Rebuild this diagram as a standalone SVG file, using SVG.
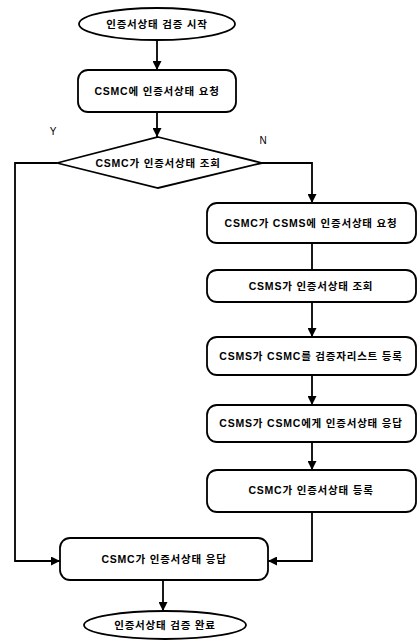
<svg xmlns="http://www.w3.org/2000/svg" width="418" height="640" viewBox="0 0 418 640">
<style>
.s{fill:#fff;stroke:#000;stroke-width:1.8}
.t{font-family:"Liberation Sans","Noto Sans CJK KR",sans-serif;font-size:10.5px;font-weight:bold;letter-spacing:0.8px;fill:#000;text-anchor:middle;dominant-baseline:central}
.c{fill:none;stroke:#000;stroke-width:1.8}
.l{font-family:"Liberation Sans",sans-serif;font-size:10px;fill:#000;text-anchor:middle}
</style>
<defs>
<marker id="a" viewBox="0 0 10 10" refX="10" refY="5" markerWidth="5.5" markerHeight="5" orient="auto" markerUnits="strokeWidth">
<path d="M0,0 L10,5 L0,10 z" fill="#000"/>
</marker>
</defs>
<g id="connectors">
<line class="c" x1="157" y1="40" x2="157" y2="70" marker-end="url(#a)"/>
<line class="c" x1="157" y1="112" x2="157" y2="137" marker-end="url(#a)"/>
<polyline class="c" points="262,163 312,163 312,203" marker-end="url(#a)"/>
<polyline class="c" points="57,163 15,163 15,561 60,561" marker-end="url(#a)"/>
<line class="c" x1="312" y1="243" x2="312" y2="270"/>
<line class="c" x1="312" y1="302" x2="312" y2="337" marker-end="url(#a)"/>
<line class="c" x1="312" y1="375" x2="312" y2="405" marker-end="url(#a)"/>
<line class="c" x1="312" y1="442" x2="312" y2="470" marker-end="url(#a)"/>
<polyline class="c" points="312,512 312,561 268,561" marker-end="url(#a)"/>
<line class="c" x1="163" y1="580" x2="163" y2="611" marker-end="url(#a)"/>
<text class="l" x="53" y="135">Y</text>
<text class="l" x="263" y="144">N</text>
</g>
<g id="start">
<ellipse class="s" cx="157" cy="24" rx="78" ry="16"/>
<text class="t" x="157" y="24">인증서상태 검증 시작</text>
</g>
<g id="req">
<rect class="s" x="78" y="70" width="158" height="42" rx="10"/>
<text class="t" x="157" y="91">CSMC에 인증서상태 요청</text>
</g>
<g id="decision">
<polygon class="s" points="158,137 262,163 158,188 57,163"/>
<text class="t" x="158" y="163">CSMC가 인증서상태 조회</text>
</g>
<g id="b2">
<rect class="s" x="207" y="203" width="209" height="40" rx="10"/>
<text class="t" x="311" y="223">CSMC가 CSMS에 인증서상태 요청</text>
</g>
<g id="b3">
<rect class="s" x="207" y="270" width="209" height="32" rx="10"/>
<text class="t" x="311" y="286">CSMS가 인증서상태 조회</text>
</g>
<g id="b4">
<rect class="s" x="207" y="337" width="209" height="38" rx="10"/>
<text class="t" x="311" y="356">CSMS가 CSMC를 검증자리스트 등록</text>
</g>
<g id="b5">
<rect class="s" x="207" y="405" width="209" height="37" rx="10"/>
<text class="t" x="311" y="423">CSMS가 CSMC에게 인증서상태 응답</text>
</g>
<g id="b6">
<rect class="s" x="207" y="470" width="209" height="42" rx="10"/>
<text class="t" x="311" y="490">CSMC가 인증서상태 등록</text>
</g>
<g id="resp">
<rect class="s" x="60" y="538" width="208" height="42" rx="10"/>
<text class="t" x="164" y="559">CSMC가 인증서상태 응답</text>
</g>
<g id="end">
<ellipse class="s" cx="165" cy="625" rx="81" ry="14"/>
<text class="t" x="165" y="625">인증서상태 검증 완료</text>
</g>
</svg>
